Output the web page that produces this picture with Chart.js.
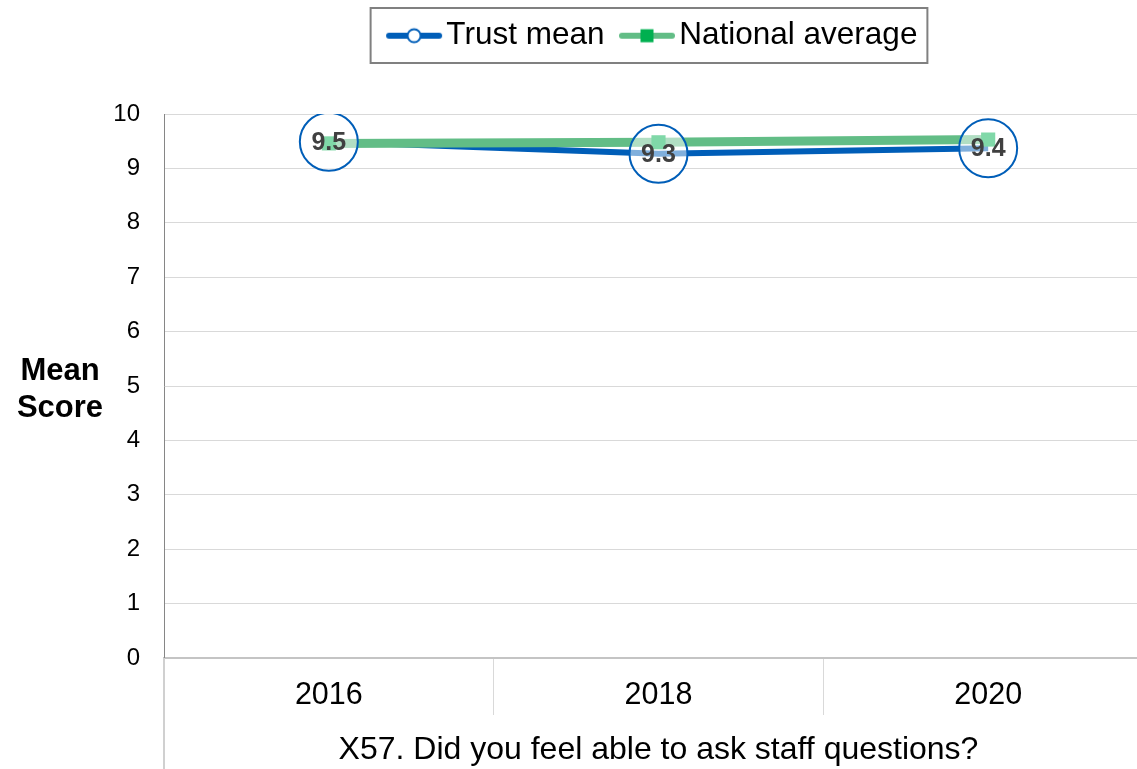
<!DOCTYPE html>
<html>
<head>
  <title>X57. Did you feel able to ask staff questions?</title>
  <script src="https://cdn.jsdelivr.net/npm/chart.js"></script>
  <style>
    html, body { margin: 0; padding: 0; overflow: hidden; background: #fff; }
    #wrap { width: 1184px; height: 769px; }
    canvas { display: block; }
  </style>
</head>
<body>
  <div id="wrap"><canvas id="meanChart" width="1184" height="769"></canvas></div>

  <script>
    // Values
    const years = ['2016', '2018', '2020'];
    const trustMean = [9.49, 9.27, 9.37];
    const nationalAverage = [9.46, 9.48, 9.53];
    const scoreTicks = [0, 1, 2, 3, 4, 5, 6, 7, 8, 9, 10];
    const questionText = 'X57. Did you feel able to ask staff questions?';

    const FONT = '"Liberation Sans", Arial, sans-serif';
    const BLUE = '#005EB8';
    const GREEN_LINE = '#62BD86';
    const GREEN_MARK = '#00B050';

    // little line+marker pictures for the legend
    function legendIcon(kind) {
      const c = document.createElement('canvas');
      c.width = 72;
      c.height = 20;
      const g = c.getContext('2d');
      g.lineCap = 'round';
      g.lineWidth = 6;
      g.strokeStyle = kind === 'trust' ? BLUE : GREEN_LINE;
      g.beginPath();
      g.moveTo(17, 10);
      g.lineTo(67, 10);
      g.stroke();
      if (kind === 'trust') {
        g.beginPath();
        g.arc(42, 10, 6.5, 0, Math.PI * 2);
        g.fillStyle = '#fff';
        g.fill();
        g.lineWidth = 2;
        g.stroke();
      } else {
        g.fillStyle = GREEN_MARK;
        g.fillRect(35.5, 3.5, 13, 13);
      }
      return c;
    }

    const extras = {
      id: 'extras',
      afterInit(chart) {
        // leave room between the legend and the plot, nudge legend a bit left
        const lg = chart.legend;
        const fit = lg.fit;
        lg.fit = function () {
          fit.call(this);
          this.height += 52.5;
          if (this.lineWidths && this.lineWidths.length) this.lineWidths[0] += 14;
        };
      },
      afterDatasetsDraw(chart) {
        const ctx = chart.ctx;
        const meta = chart.getDatasetMeta(2);
        ctx.save();
        ctx.font = 'bold 25px ' + FONT;
        ctx.fillStyle = '#404040';
        ctx.textAlign = 'center';
        ctx.textBaseline = 'middle';
        meta.data.forEach((pt, i) => {
          ctx.fillText(trustMean[i].toFixed(1), pt.x, pt.y + 1);
        });
        ctx.restore();
      },
      afterDraw(chart) {
        const ctx = chart.ctx;
        const area = chart.chartArea;
        ctx.save();
        // y axis title, horizontal
        ctx.font = 'bold 31px ' + FONT;
        ctx.fillStyle = '#000';
        ctx.textAlign = 'center';
        ctx.textBaseline = 'middle';
        ctx.fillText('Mean', 60, 371);
        ctx.fillText('Score', 60, 408);
        // left rule under the axis
        ctx.strokeStyle = '#d0d0d0';
        ctx.lineWidth = 2;
        ctx.beginPath();
        ctx.moveTo(area.left, area.bottom);
        ctx.lineTo(area.left, chart.height);
        ctx.stroke();
        // legend frame
        const hb = chart.legend.legendHitBoxes;
        if (hb && hb.length) {
          const last = hb[hb.length - 1];
          const x0 = hb[0].left - 15;
          const x1 = last.left + last.width + 10;
          ctx.strokeStyle = '#808080';
          ctx.lineWidth = 2;
          ctx.strokeRect(x0, hb[0].top - 12, x1 - x0, 55);
        }
        ctx.restore();
      }
    };

    const ctx = document.getElementById('meanChart').getContext('2d');
    new Chart(ctx, {
      type: 'line',
      data: {
        labels: years,
        datasets: [
          {
            label: 'Trust mean',
            data: trustMean,
            borderColor: BLUE,
            borderWidth: 6,
            pointRadius: 0,
            tension: 0,
            order: 3
          },
          {
            label: 'National average',
            data: nationalAverage,
            borderColor: GREEN_LINE,
            borderWidth: 9,
            pointStyle: 'rect',
            pointRadius: 10,
            pointBackgroundColor: GREEN_MARK,
            pointBorderWidth: 0,
            tension: 0,
            order: 2
          },
          {
            label: 'Trust mean points',
            data: trustMean,
            showLine: false,
            pointRadius: 29,
            pointBackgroundColor: 'rgba(255,255,255,0.5)',
            pointBorderColor: BLUE,
            pointBorderWidth: 2,
            order: 1
          }
        ]
      },
      options: {
        responsive: false,
        animation: false,
        layout: { padding: { top: 6, left: 0, right: 0, bottom: 0 } },
        plugins: {
          tooltip: { enabled: false },
          legend: {
            position: 'top',
            fullSize: false,
            labels: {
              usePointStyle: true,
              pointStyleWidth: 45,
              padding: 14,
              color: '#000',
              font: { family: FONT, size: 31.5 },
              generateLabels: () => [
                { text: 'Trust mean', pointStyle: legendIcon('trust'), fillStyle: 'transparent', strokeStyle: 'transparent', lineWidth: 0, hidden: false, datasetIndex: 0 },
                { text: 'National average', pointStyle: legendIcon('national'), fillStyle: 'transparent', strokeStyle: 'transparent', lineWidth: 0, hidden: false, datasetIndex: 1 }
              ]
            }
          }
        },
        scales: {
          x: {
            offset: true,
            afterFit: s => { s.height = 111; },
            grid: { offset: true, drawOnChartArea: false, drawTicks: true, tickLength: 57, color: '#d9d9d9', lineWidth: 1 },
            border: { color: '#c4c4c4', width: 2 },
            ticks: { color: '#000', font: { family: FONT, size: 30.5 }, padding: -38, maxRotation: 0 },
            title: { display: true, text: questionText, color: '#000', font: { family: FONT, size: 32 }, padding: 0 }
          },
          y: {
            min: 0,
            max: 10,
            afterFit: s => { s.width = 164; },
            afterBuildTicks: s => { s.ticks = scoreTicks.map(v => ({ value: v })); },
            grid: { color: '#d9d9d9', lineWidth: 1, drawTicks: false },
            border: { color: '#868686', width: 1 },
            ticks: { color: '#000', font: { family: FONT, size: 24 }, padding: 24 }
          }
        }
      },
      plugins: [extras]
    });
  </script>
</body>
</html>
